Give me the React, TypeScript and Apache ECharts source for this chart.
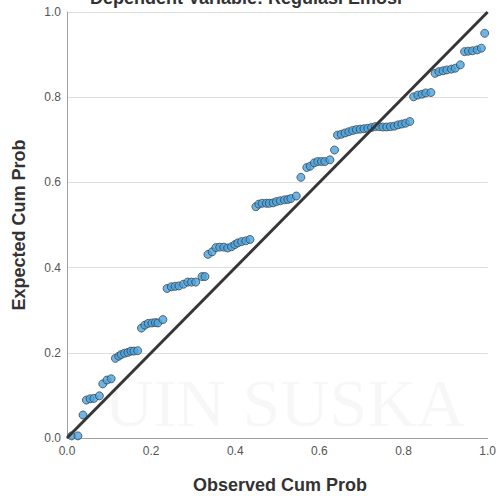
import React, { useEffect, useRef } from "react";
import * as echarts from "echarts";

const observed: number[] = [
  0.011, 0.026, 0.038,
  0.046, 0.055, 0.064, 0.077,
  0.085, 0.095, 0.105,
  0.115, 0.123, 0.129, 0.137, 0.145, 0.152, 0.159, 0.168,
  0.177, 0.185, 0.193, 0.202, 0.210, 0.216, 0.228,
  0.238, 0.248, 0.257, 0.266, 0.277, 0.287, 0.296, 0.306, 0.321, 0.328,
  0.335, 0.345, 0.354, 0.363, 0.373, 0.382, 0.391, 0.399, 0.406, 0.415, 0.425, 0.435,
  0.449, 0.456, 0.464, 0.474, 0.481, 0.490, 0.498, 0.507, 0.517, 0.525, 0.532, 0.545,
  0.556,
  0.570, 0.578, 0.588, 0.596, 0.605, 0.613, 0.625, 0.636,
  0.643, 0.652, 0.661, 0.670, 0.679, 0.688, 0.697, 0.706, 0.715, 0.724,
  0.733, 0.742, 0.751, 0.760, 0.769, 0.778, 0.787, 0.796, 0.805, 0.815,
  0.824, 0.834, 0.844, 0.853, 0.865,
  0.875, 0.884, 0.894, 0.903, 0.914, 0.923, 0.935,
  0.945, 0.954, 0.964, 0.975, 0.985,
  0.993,
];

const expected: number[] = [
  0.005, 0.005, 0.054,
  0.089, 0.092, 0.093, 0.099,
  0.127, 0.136, 0.139,
  0.187, 0.192, 0.196, 0.199, 0.201, 0.204, 0.204, 0.205,
  0.258, 0.265, 0.269, 0.270, 0.271, 0.270, 0.278,
  0.351, 0.355, 0.356, 0.357, 0.361, 0.366, 0.366, 0.366, 0.379, 0.379,
  0.431, 0.437, 0.447, 0.448, 0.448, 0.446, 0.449, 0.454, 0.458, 0.461, 0.463, 0.466,
  0.543, 0.549, 0.551, 0.551, 0.551, 0.552, 0.555, 0.557, 0.559, 0.560, 0.562, 0.568,
  0.612,
  0.635, 0.638, 0.646, 0.649, 0.649, 0.649, 0.653, 0.676,
  0.711, 0.713, 0.716, 0.719, 0.722, 0.724, 0.725, 0.726, 0.727, 0.729,
  0.731, 0.731, 0.730, 0.730, 0.731, 0.732, 0.735, 0.737, 0.739, 0.743,
  0.801, 0.805, 0.807, 0.810, 0.811,
  0.856, 0.860, 0.862, 0.864, 0.866, 0.868, 0.876,
  0.907, 0.908, 0.909, 0.911, 0.915,
  0.950,
];

const tickValues: number[] = [0, 0.2, 0.4, 0.6, 0.8, 1.0];
const referenceLine: number[][] = [[0, 0], [1, 1]];

const chartTitle = "Dependent Variable: Regulasi Emosi";
const xTitle = "Observed Cum Prob";
const yTitle = "Expected Cum Prob";
const watermark = "UIN SUSKA";

export default function App() {
  const ref = useRef<HTMLDivElement>(null);

  useEffect(() => {
    if (!ref.current) return;
    const chart = echarts.init(ref.current, undefined, { renderer: "svg" });
    const points = observed.map((x, i) => [x, expected[i]]);
    const font = '"Liberation Sans", Arial, sans-serif';
    const axisCommon = {
      type: "value" as const,
      min: tickValues[0],
      max: tickValues[tickValues.length - 1],
      interval: 0.2,
      axisTick: { show: false },
      axisLine: { show: true, lineStyle: { color: "#a0a0a0", width: 1 } },
      axisLabel: {
        color: "#555",
        fontSize: 12,
        fontFamily: font,
        formatter: (v: number) => v.toFixed(1),
      },
    };
    chart.setOption({
      animation: false,
      backgroundColor: "#ffffff",
      grid: { left: 67, right: 5.5, top: 12, bottom: 58, containLabel: false },
      xAxis: { ...axisCommon, splitLine: { show: false }, axisLabel: { ...axisCommon.axisLabel, margin: 7 } },
      yAxis: {
        ...axisCommon,
        splitLine: { show: true, lineStyle: { color: "#dedede", width: 1 } },
        axisLabel: { ...axisCommon.axisLabel, margin: 6 },
      },
      graphic: [
        {
          type: "text",
          x: 285,
          y: 403,
          z: -10,
          silent: true,
          style: {
            text: watermark,
            fill: "rgba(0,0,0,0.03)",
            font: '68px "Liberation Serif", serif',
            lineHeight: 56,
            align: "center",
            verticalAlign: "middle",
          },
        },
        {
          type: "text",
          x: 246,
          y: -2,
          style: {
            text: chartTitle,
            fill: "#333",
            font: `bold 18px ${font}`,
            align: "center",
            verticalAlign: "middle",
          },
        },
        {
          type: "text",
          x: 280,
          y: 485,
          style: {
            text: xTitle,
            fill: "#333",
            font: `bold 18px ${font}`,
            align: "center",
            verticalAlign: "middle",
          },
        },
        {
          type: "text",
          x: 19,
          y: 225,
          rotation: Math.PI / 2,
          style: {
            text: yTitle,
            fill: "#333",
            font: `bold 18px ${font}`,
            align: "center",
            verticalAlign: "middle",
          },
        },
      ],
      series: [
        {
          type: "scatter",
          data: points,
          symbol: "circle",
          symbolSize: 8,
          z: 2,
          itemStyle: { color: "#4aa3dc", borderColor: "#2f3b46", borderWidth: 0.9 },
        },
        {
          type: "line",
          data: referenceLine,
          symbol: "none",
          z: 3,
          lineStyle: { color: "#363636", width: 3 },
        },
      ],
    });
    return () => chart.dispose();
  }, []);

  return (
    <div
      ref={ref}
      style={{ position: "fixed", left: 0, top: 0, width: 499, height: 496 }}
    />
  );
}
